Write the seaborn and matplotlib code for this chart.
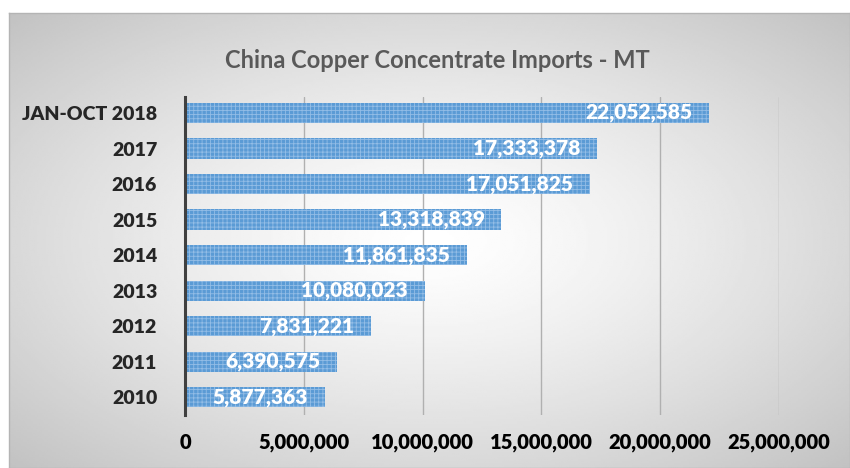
import numpy as np
import pandas as pd
import seaborn as sns
import matplotlib.pyplot as plt

# Data
years = ['JAN-OCT 2018', '2017', '2016', '2015', '2014', '2013', '2012', '2011', '2010']
imports_mt = [22052585, 17333378, 17051825, 13318839, 11861835, 10080023, 7831221, 6390575, 5877363]
x_ticks = [0, 5000000, 10000000, 15000000, 20000000, 25000000]

df = pd.DataFrame({'year': years, 'mt': imports_mt})

sns.set_style('white')
plt.rcParams['font.family'] = ['Lato', 'DejaVu Sans']
plt.rcParams['hatch.linewidth'] = 0.6

fig = plt.figure(figsize=(8.5, 4.68), dpi=100)

# Radial gradient chart background with thin border
bg = fig.add_axes([9 / 850, 0, 841 / 850, 455 / 468])
gx, gy = np.meshgrid(np.linspace(-1, 1, 400), np.linspace(-1, 1, 220))
r = np.sqrt(gx ** 2 + gy ** 2) / np.sqrt(2)
shade = 1 - 0.24 * r ** 1.3
bg.imshow(shade, cmap='gray', vmin=0, vmax=1, aspect='auto', extent=[0, 1, 0, 1], zorder=0)
bg.set_xticks([])
bg.set_yticks([])
for s in bg.spines.values():
    s.set_color('#b4b4b4')
    s.set_linewidth(1)

ax = fig.add_axes([185 / 850, 53 / 468, (779 - 185) / 850, (416 - 98) / 468])
ax.patch.set_alpha(0)
sns.barplot(data=df, x='mt', y='year', orient='h', color='#5b9bd5', width=0.57,
            saturation=1, ax=ax, zorder=3)
for p in ax.patches:
    p.set_hatch('++++')
    p.set_edgecolor('#93bde6')
    p.set_linewidth(0)

for i, v in enumerate(imports_mt):
    ax.annotate(f'{v:,}', xy=(v, i), xytext=(-12, 0), textcoords='offset points',
                ha='right', va='center', color='white', fontsize=15, fontweight='heavy', zorder=5)

ax.set_xlim(0, 25000000)
ax.set_ylim(8.5, -0.45)
ax.set_xticks(x_ticks)
ax.set_xticklabels([f'{t:,}' for t in x_ticks], fontsize=14.5, fontweight='heavy', color='black')
ax.tick_params(axis='y', labelsize=14, length=0, pad=20)
for lbl in ax.get_yticklabels():
    lbl.set_fontweight('heavy')
ax.tick_params(axis='x', length=0, pad=13)
ax.xaxis.grid(True, color='#b0b0b0', linewidth=1, zorder=1)
ax.set_axisbelow(True)
for s in ['top', 'right', 'bottom']:
    ax.spines[s].set_visible(False)
ax.spines['left'].set_color('#404040')
ax.spines['left'].set_linewidth(2.2)
ax.spines['left'].set_zorder(6)
ax.set_xlabel('')
ax.set_ylabel('')

fig.text(437 / 850, 1 - 60 / 468, 'China Copper Concentrate Imports - MT', ha='center', va='center',
         fontsize=17, fontweight='bold', color='#595959')

fig.savefig('out.png', dpi=100)
plt.close(fig)
